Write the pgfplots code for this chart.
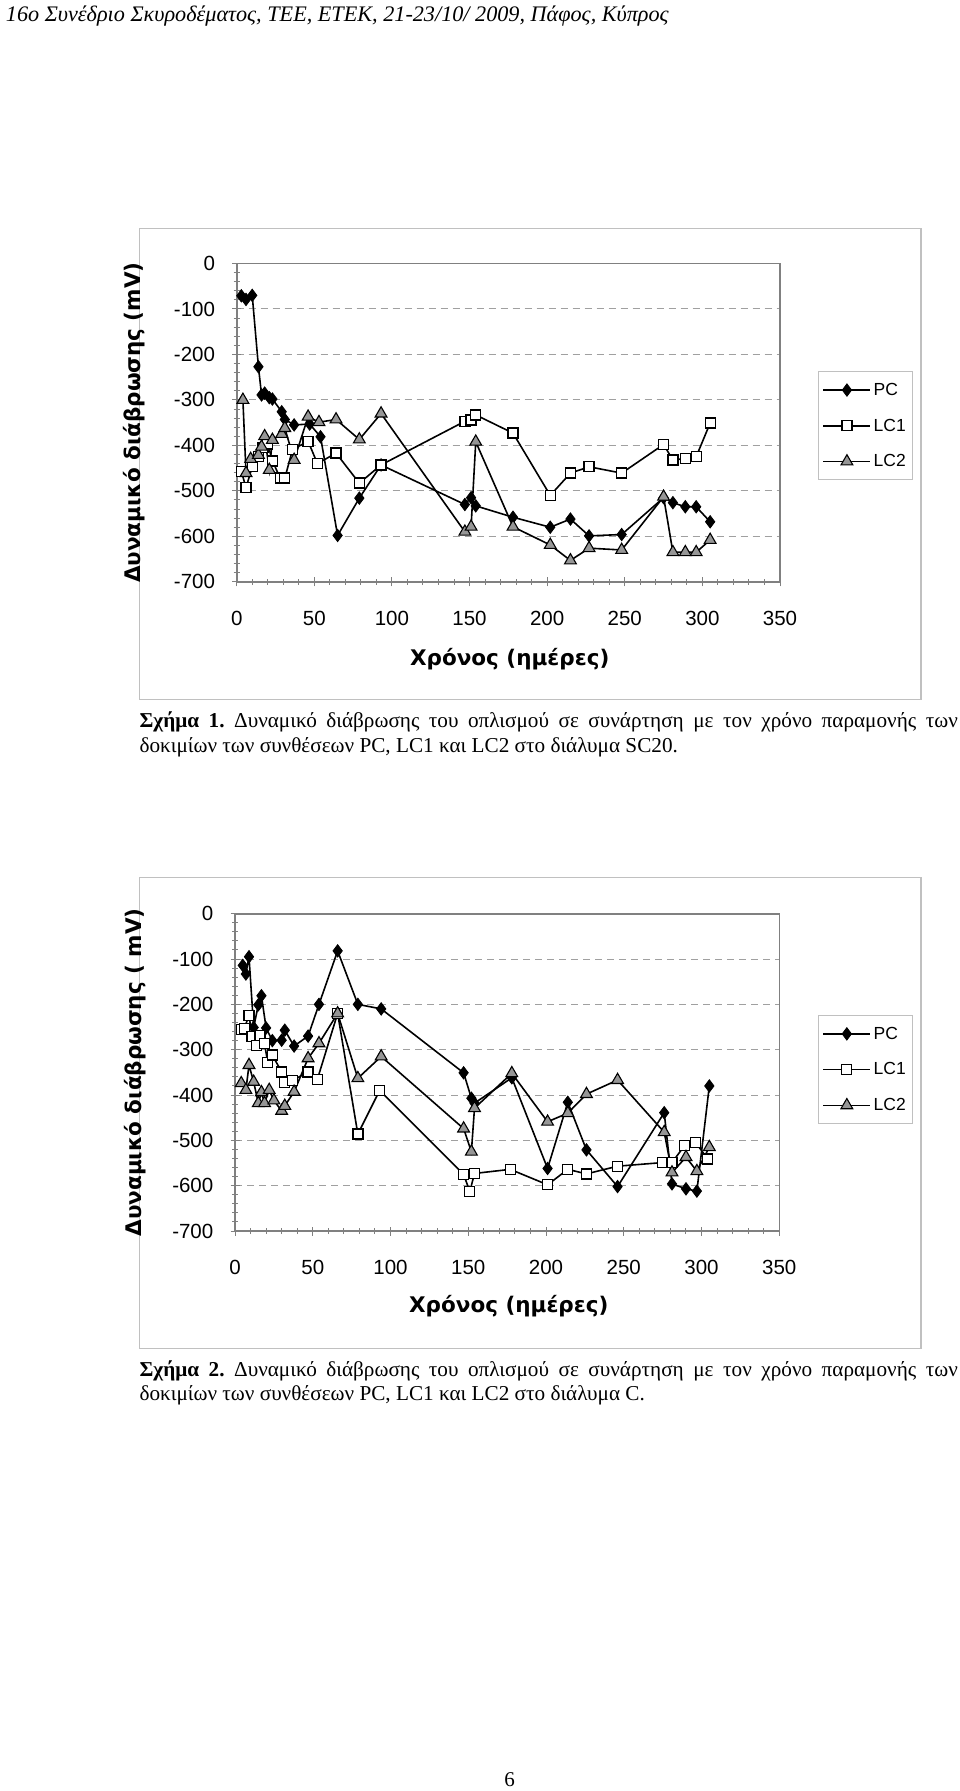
\documentclass[border=0pt]{standalone}
\usepackage{fontspec}
\setmainfont{Liberation Serif}
\newfontfamily\arial{Liberation Sans}
\newfontfamily\dejab{DejaVu Sans}
\usepackage{pgfplots}
\pgfplotsset{compat=1.18}
\definecolor{tri}{RGB}{150,150,150}
\definecolor{axgray}{RGB}{128,128,128}
\definecolor{gridgray}{RGB}{160,160,160}
\definecolor{framegray}{RGB}{192,192,192}

\pgfplotsset{
  chartstyle/.style={
    scale only axis,
    xmin=0, xmax=350, ymin=-700, ymax=0,
    xtick={0,50,...,350}, ytick={-700,-600,...,0},
    yticklabels={-700,-600,-500,-400,-300,-200,-100,0},
    xticklabels={0,50,100,150,200,250,300,350},
    minor x tick num=4, minor y tick num=4,
    tick pos=left, tick align=center,
    major tick length=9pt, minor tick length=6pt,
    tick style={axgray, line width=1pt},
    axis line style={axgray, line width=1.6pt},
    ymajorgrids,
    major grid style={gridgray, dash pattern=on 7pt off 5pt, line width=1pt},
    ticklabel style={font=\arial\fontsize{20.5}{24}\selectfont, text=black},
    xticklabel style={anchor=center, yshift=-32pt},
    yticklabel style={anchor=east, inner sep=0pt, xshift=-17pt},
    label style={font=\dejab\bfseries\fontsize{21.5}{25}\selectfont},
    legend cell align=left,
    legend style={anchor=north west, draw=framegray, line width=1.2pt,
      font=\arial\fontsize{17.5}{20}\selectfont, inner xsep=4pt, inner ysep=9pt,
      row sep=17pt, nodes={inner sep=2.5pt}},
    legend image code/.code={\draw[mark repeat=2,mark phase=2,##1] plot coordinates {(0pt,0pt) (23.5pt,0pt) (47pt,0pt)};},
  },
  pc/.style={black, line width=1.6pt, mark=diamond*, mark size=6.2pt,
    mark options={solid, fill=black, draw=black, line width=0.8pt}},
  lcone/.style={black, line width=1.6pt, mark=square*, mark size=5pt,
    mark options={solid, fill=white, draw=black, line width=1.3pt}},
  lctwo/.style={black, line width=1.6pt, mark=triangle*, mark size=6.8pt,
    mark options={solid, fill=tri, draw=black, line width=1.1pt}},
}

\begin{document}
\frenchspacing
\begin{tikzpicture}[x=1pt,y=1pt]
\useasboundingbox (0,0) rectangle (960,-1791);
\fill[white] (0,0) rectangle (960,-1791);

% header
\node[anchor=base west, inner sep=0] at (5.7,-21) {\itshape\fontsize{22.2}{25}\selectfont 16ο Συνέδριο Σκυροδέματος, ΤΕΕ, ΕΤΕΚ, 21-23/10/ 2009, Πάφος, Κύπρος};

% frames
\draw[framegray, line width=1.5pt] (139.4,-228.6) rectangle (921,-699.4);
\draw[framegray, line width=1.5pt] (139.4,-877.7) rectangle (921,-1348.6);

% ---------------- Chart 1
\begin{axis}[chartstyle,
  at={(236.7pt,-263.5pt)}, anchor=north west,
  width=543.3pt, height=318.3pt,
  xlabel={Χρόνος (ημέρες)}, ylabel={Δυναμικό διάβρωσης (mV)},
  xlabel style={at={(axis description cs:0.5025,-0.244)}, anchor=center},
  ylabel style={at={(axis description cs:-0.189,0.5)}, anchor=center},
  legend style={at={(axis description cs:1.070,0.662)}},
]
\addplot[pc] coordinates {
(3,-71) (6,-79) (10,-70) (14,-227) (16,-289) (18,-285) (21,-295) (23,-298)
(29,-326) (31,-343) (37,-355) (47,-353) (54,-381) (65,-598) (79,-516) (93,-443)
(147,-530) (151,-515) (154,-533) (178,-558) (202,-580) (215,-562) (227,-599)
(248,-596) (275,-515) (281,-526) (289,-535) (296,-535) (305,-568)};
\addlegendentry{PC}
\addplot[lcone] coordinates {
(3,-457) (6,-493) (10,-447) (14,-425) (17,-405) (20,-397) (23,-434) (28,-472)
(31,-472) (36,-409) (46,-391) (52,-440) (64,-417) (79,-483) (93,-443)
(147,-347) (151,-344) (154,-333) (178,-373) (202,-510) (215,-461) (227,-447)
(248,-461) (275,-398) (281,-432) (289,-429) (296,-425) (305,-351)};
\addlegendentry{LC1}
\addplot[lctwo] coordinates {
(4,-300) (6,-461) (9,-430) (14,-421) (16,-403) (18,-380) (21,-454) (23,-388)
(29,-375) (31,-362) (37,-432) (46,-337) (53,-349) (64,-343) (79,-387) (93,-330)
(147,-590) (151,-579) (154,-392) (178,-579) (202,-619) (215,-653) (227,-626)
(248,-630) (275,-513) (281,-635) (289,-635) (296,-635) (305,-608)};
\addlegendentry{LC2}
\end{axis}

\node[anchor=base west, inner sep=0] at (139.4,-727.7) {\fontsize{21.2}{25}\selectfont\makebox[818.3pt][s]{\textbf{Σχήμα 1.} Δυναμικό διάβρωσης του οπλισμού σε συνάρτηση με τον χρόνο παραμονής των}};
\node[anchor=base west, inner sep=0] at (139.4,-752.7) {\fontsize{21.2}{25}\selectfont δοκιμίων των συνθέσεων PC, LC1 και LC2 στο διάλυμα SC20.};

% ---------------- Chart 2
\begin{axis}[chartstyle,
  at={(235pt,-913.7pt)}, anchor=north west,
  width=544.3pt, height=317.3pt,
  xlabel={Χρόνος (ημέρες)}, ylabel={Δυναμικό διάβρωσης ( mV)},
  xlabel style={at={(axis description cs:0.503,-0.236)}, anchor=center},
  ylabel style={at={(axis description cs:-0.184,0.5)}, anchor=center},
  legend style={at={(axis description cs:1.071,0.681)}},
]
\addplot[pc] coordinates {
(5,-114) (7,-133) (9,-95) (12,-251) (15,-201) (17,-181) (20,-252) (24,-280)
(30,-279) (32,-257) (38,-292) (47,-270) (54,-200) (66,-82) (79,-200) (94,-210)
(147,-351) (152,-407) (154,-418) (178,-362) (201,-562) (214,-416) (226,-521)
(246,-602) (276,-439) (281,-596) (290,-607) (297,-612) (305,-380)};
\addlegendentry{PC}
\addplot[lcone] coordinates {
(4,-255) (6,-253) (9,-224) (11,-271) (14,-290) (16,-268) (19,-286) (21,-328)
(24,-312) (30,-349) (32,-372) (37,-368) (47,-349) (53,-365) (66,-220) (79,-486)
(93,-390) (147,-575) (151,-613) (154,-573) (177,-564) (201,-598) (214,-564)
(226,-574) (246,-557) (275,-549) (281,-549) (289,-512) (296,-504) (304,-541)};
\addlegendentry{LC1}
\addplot[lctwo] coordinates {
(4,-374) (7,-389) (9,-334) (12,-371) (15,-418) (17,-394) (19,-418) (22,-389)
(25,-412) (30,-435) (32,-424) (38,-393) (47,-319) (54,-286) (66,-220) (79,-363)
(94,-315) (147,-474) (152,-525) (154,-429) (178,-352) (201,-459) (214,-440)
(226,-398) (246,-367) (276,-482) (281,-571) (290,-537) (297,-568) (305,-515)};
\addlegendentry{LC2}
\end{axis}

\node[anchor=base west, inner sep=0] at (139.4,-1376.7) {\fontsize{21.2}{25}\selectfont\makebox[818.3pt][s]{\textbf{Σχήμα 2.} Δυναμικό διάβρωσης του οπλισμού σε συνάρτηση με τον χρόνο παραμονής των}};
\node[anchor=base west, inner sep=0] at (139.4,-1400.7) {\fontsize{21.2}{25}\selectfont δοκιμίων των συνθέσεων PC, LC1 και LC2 στο διάλυμα C.};

% page number
\node[anchor=base, inner sep=0] at (509.7,-1786) {\fontsize{21}{25}\selectfont 6};
\end{tikzpicture}
\end{document}
